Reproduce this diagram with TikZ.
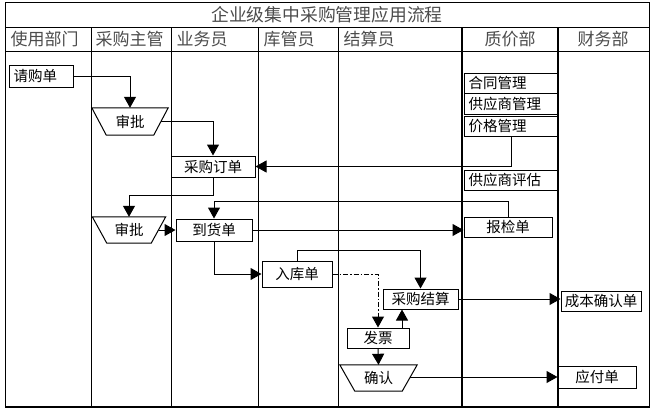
\documentclass[tikz,border=0pt]{standalone}
\usepackage{fontspec}
\setmainfont{Noto Sans CJK SC}
\usepackage{tikz}
\usetikzlibrary{arrows.meta}
\usepackage{xcolor}

\tikzset{
	doc/.style={draw, line width=1pt, inner sep=0pt, font=\fontsize{14.5}{16}\selectfont},
	ldoc/.style={doc, anchor=west, inner xsep=4pt, text width=#1, align=left},
	appr/.style={inner sep=0pt, font=\fontsize{14.5}{16}\selectfont},
	head/.style={text=black!70, font=\fontsize{17}{19}\selectfont},
	flow/.style={line width=1pt, -{Triangle[length=11pt,width=12pt]}},
	grid/.style={line width=1pt},
	heavy/.style={line width=2pt}
}

\begin{document}
\begin{tikzpicture}[x=1pt,y=-1pt]
		\useasboundingbox (0,0) rectangle (652,413);
		
		\draw[grid] (5,2) rectangle (649,407);
		\draw[heavy] (5,407) -- (649,407);
		\draw[grid] (5,27) -- (649,27);
		\draw[grid] (5,51) -- (649,51);
		\foreach \x in {91,171,258,338}
			\draw[grid] (\x,27) -- (\x,407);
		\foreach \x in {462,558}
			\draw[heavy] (\x,27) -- (\x,407);
		
		\node[head, font=\fontsize{17.8}{19}\selectfont] (title) at (327,15) {企业级集中采购管理应用流程};
		\node[head, anchor=west] (hdUse) at (7,39) {使用部门};
		\node[head, anchor=west] (hdBoss) at (92,39) {采购主管};
		\node[head, anchor=west] (hdClerk) at (173,39) {业务员};
		\node[head, anchor=west] (hdStore) at (260,39) {库管员};
		\node[head, anchor=west] (hdSettle) at (340,39) {结算员};
		\node[head] (hdQuality) at (510,39) {质价部};
		\node[head] (hdFinance) at (603,39) {财务部};
		
		\node[ldoc=56pt, minimum height=22pt] (qgd) at (9,76) {请购单};
		
		\node[appr, minimum width=76pt, minimum height=27pt] (sp1) at (130,121.5) {审批};
		\draw[grid] (sp1.north west) -- (sp1.north east) -- ([xshift=-14.5pt]sp1.south east)
			-- ([xshift=14.5pt]sp1.south west) -- cycle;
		
		\node[doc, minimum width=84pt, minimum height=21pt] (cgdd) at (213,166.5) {采购订单};
		
		\node[appr, minimum width=73pt, minimum height=26pt] (sp2) at (129,230) {审批};
		\draw[grid] (sp2.north west) -- (sp2.north east) -- ([xshift=-14.5pt]sp2.south east)
			-- ([xshift=14.5pt]sp2.south west) -- cycle;
		
		\node[doc, minimum width=76pt, minimum height=22pt] (dhd) at (214,230) {到货单};
		\node[doc, minimum width=70pt, minimum height=26pt] (rkd) at (297,274) {入库单};
		\node[doc, minimum width=88pt, minimum height=20pt] (bjd) at (508,227) {报检单};
		\node[doc, minimum width=75pt, minimum height=20pt] (jsd) at (420.5,299) {采购结算};
		\node[doc, minimum width=62pt, minimum height=20pt] (fp) at (378,338) {发票};
		
		\node[appr, minimum width=77pt, minimum height=26pt] (qr) at (378.5,378) {确认};
		\draw[grid] (qr.north west) -- (qr.north east) -- ([xshift=-15pt]qr.south east)
			-- ([xshift=15pt]qr.south west) -- cycle;
		
		\node[doc, minimum width=78pt, minimum height=22pt] (yfd) at (597,377) {应付单};
		\node[doc, minimum width=80pt, minimum height=20pt] (cbd) at (601,301) {成本确认单};
		
		\node[ldoc=86pt, minimum height=20pt] (htgl) at (464,83) {合同管理};
		\node[ldoc=86pt, minimum height=21pt] (gysgl) at (464,103.5) {供应商管理};
		\node[ldoc=86pt, minimum height=20pt] (jggl) at (464,126) {价格管理};
		\node[ldoc=86pt, minimum height=20pt] (gyspg) at (464,180) {供应商评估};
		
		\draw[flow] (qgd.east) -| (sp1.north);
		
		\coordinate (sp1out) at ([xshift=-7pt]sp1.east);
		\draw[flow] (sp1out) -| (cgdd.north);
		
		\draw[flow] (jggl.south) |- (cgdd.east);
		
		\draw[flow] (cgdd.south) -- ++(0,18) -| (sp2.north);
		
		\coordinate (sp2out) at ([xshift=-7pt]sp2.east);
		\draw[flow] (sp2out) -- (dhd.west);
		
		\draw[flow] (bjd.north) -- ++(0,-15) -| (dhd.north);
		
		\draw[flow] (dhd.east) -- (dhd.east -| bjd.west);
		
		\draw[flow] (dhd.south) |- (rkd.west);
		
		\draw[flow] (rkd.north) -- ++(0,-10) -| (jsd.north);
		
		\draw[flow, dash pattern=on 5pt off 2pt on 1.5pt off 2pt] (rkd.east) -| (fp.north);
		
		\coordinate (fpup) at ([xshift=24pt]fp.north);
		\draw[flow] (fpup) -- (fpup |- jsd.south);
		
		\draw[flow] (fp.south) -- (qr.north);
		
		\coordinate (qrout) at ([xshift=-7pt]qr.east);
		\draw[flow] (qrout |- yfd.west) -- (yfd.west);
		
		\draw[flow] (jsd.east) -- (jsd.east -| cbd.west);
	\end{tikzpicture}
\end{document}
